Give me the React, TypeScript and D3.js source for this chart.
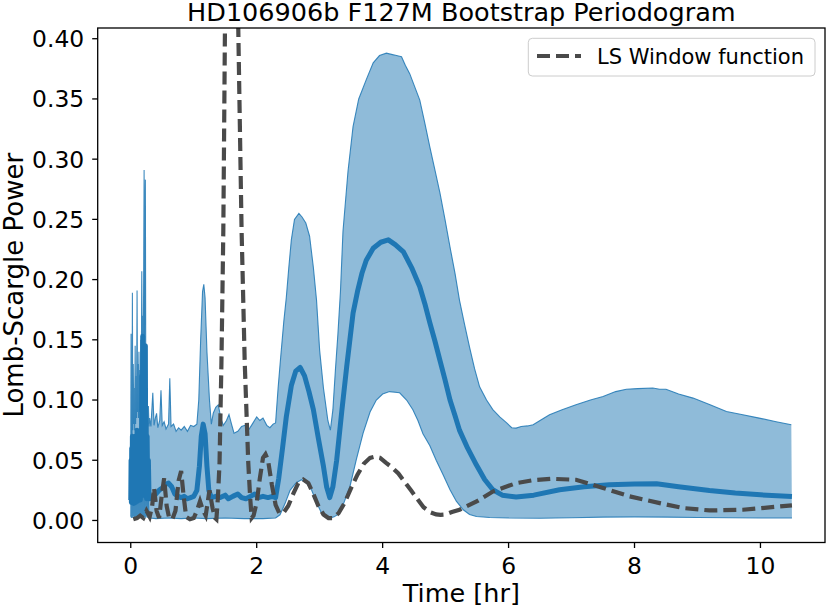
import * as d3 from "d3";

// Bootstrap periodogram: [period in hr, power]
const upperBound: [number, number][] = [
  [0.0, 0.05], [0.005, 0.155], [0.01, 0.06], [0.015, 0.12], [0.02, 0.07], [0.026, 0.189], [0.032, 0.075],
  [0.04, 0.13], [0.047, 0.08], [0.055, 0.11], [0.062, 0.075], [0.07, 0.145], [0.077, 0.08], [0.085, 0.12],
  [0.092, 0.085], [0.1, 0.191], [0.108, 0.09], [0.115, 0.13], [0.122, 0.085], [0.13, 0.14], [0.137, 0.09],
  [0.145, 0.125], [0.152, 0.1], [0.16, 0.15], [0.167, 0.11], [0.175, 0.207], [0.182, 0.14], [0.19, 0.17],
  [0.197, 0.12], [0.205, 0.2], [0.212, 0.291], [0.218, 0.15], [0.225, 0.24], [0.232, 0.283], [0.238, 0.13],
  [0.245, 0.145], [0.252, 0.09], [0.26, 0.11], [0.27, 0.08], [0.28, 0.095], [0.29, 0.078], [0.3, 0.085],
  [0.32, 0.078], [0.35, 0.106], [0.37, 0.079], [0.39, 0.085], [0.41, 0.089], [0.43, 0.077], [0.46, 0.083],
  [0.48, 0.108], [0.5, 0.079], [0.53, 0.082], [0.56, 0.076], [0.6, 0.08], [0.62, 0.118], [0.64, 0.078],
  [0.68, 0.08], [0.72, 0.074], [0.76, 0.077], [0.8, 0.075], [0.85, 0.078], [0.9, 0.074], [0.95, 0.079],
  [1.0, 0.078], [1.05, 0.08], [1.08, 0.1], [1.11, 0.15], [1.14, 0.19], [1.16, 0.196], [1.18, 0.185],
  [1.21, 0.14], [1.25, 0.1], [1.28, 0.08], [1.31, 0.089], [1.35, 0.094], [1.39, 0.096], [1.43, 0.085],
  [1.47, 0.079], [1.52, 0.083], [1.56, 0.088], [1.6, 0.08], [1.64, 0.0725], [1.7, 0.074], [1.76, 0.078],
  [1.81, 0.079], [1.87, 0.075], [1.93, 0.08], [2.0, 0.086], [2.05, 0.083], [2.1, 0.085], [2.16, 0.079],
  [2.21, 0.077], [2.26, 0.08], [2.3, 0.081], [2.34, 0.11], [2.38, 0.135], [2.43, 0.165], [2.47, 0.185],
  [2.51, 0.21], [2.55, 0.233], [2.6, 0.25], [2.67, 0.255], [2.72, 0.252], [2.78, 0.247], [2.84, 0.236],
  [2.9, 0.21], [2.95, 0.183], [3.0, 0.141], [3.06, 0.11], [3.13, 0.083], [3.17, 0.075], [3.21, 0.092],
  [3.25, 0.125], [3.29, 0.155], [3.33, 0.19], [3.37, 0.24], [3.45, 0.29], [3.53, 0.327], [3.62, 0.35],
  [3.74, 0.366], [3.85, 0.38], [3.95, 0.386], [4.06, 0.388], [4.14, 0.387], [4.22, 0.386], [4.3, 0.385],
  [4.36, 0.378], [4.43, 0.371], [4.51, 0.36], [4.59, 0.349], [4.67, 0.33], [4.75, 0.31], [4.83, 0.291],
  [4.91, 0.272], [4.99, 0.25], [5.07, 0.227], [5.15, 0.205], [5.22, 0.183], [5.3, 0.163], [5.38, 0.144],
  [5.46, 0.126], [5.54, 0.111], [5.65, 0.1], [5.75, 0.092], [5.86, 0.086], [5.97, 0.081], [6.05, 0.077],
  [6.12, 0.0767], [6.2, 0.078], [6.3, 0.0785], [6.39, 0.0794], [6.5, 0.083], [6.65, 0.0877], [6.85, 0.092],
  [7.07, 0.096], [7.3, 0.1], [7.5, 0.103], [7.7, 0.107], [7.87, 0.109], [8.05, 0.1095], [8.29, 0.11],
  [8.4, 0.109], [8.5, 0.109], [8.7, 0.105], [8.93, 0.1016], [9.2, 0.096], [9.46, 0.0905], [9.7, 0.088],
  [9.98, 0.085], [10.25, 0.082], [10.49, 0.0794],
];

const medianPower: [number, number][] = [
  [0.0, 0.017], [0.005, 0.05], [0.01, 0.015], [0.015, 0.06], [0.02, 0.018], [0.026, 0.07], [0.032, 0.016],
  [0.04, 0.055], [0.047, 0.014], [0.055, 0.065], [0.062, 0.018], [0.07, 0.07], [0.077, 0.015], [0.085, 0.06],
  [0.092, 0.02], [0.1, 0.075], [0.108, 0.016], [0.115, 0.065], [0.122, 0.018], [0.13, 0.07], [0.137, 0.02],
  [0.145, 0.06], [0.152, 0.017], [0.16, 0.075], [0.167, 0.02], [0.175, 0.12], [0.182, 0.03], [0.19, 0.153],
  [0.197, 0.025], [0.205, 0.09], [0.212, 0.04], [0.218, 0.14], [0.225, 0.03], [0.232, 0.145], [0.238, 0.02],
  [0.245, 0.08], [0.252, 0.018], [0.26, 0.07], [0.27, 0.02], [0.28, 0.05], [0.29, 0.02], [0.3, 0.018],
  [0.35, 0.02], [0.4, 0.022], [0.45, 0.025], [0.5, 0.027], [0.55, 0.03], [0.6, 0.031], [0.65, 0.028],
  [0.7, 0.022], [0.75, 0.02], [0.8, 0.019], [0.85, 0.02], [0.9, 0.018], [0.95, 0.019], [1.0, 0.02],
  [1.05, 0.025], [1.09, 0.045], [1.12, 0.07], [1.15, 0.08], [1.18, 0.072], [1.21, 0.045], [1.24, 0.025],
  [1.28, 0.019], [1.35, 0.02], [1.42, 0.019], [1.5, 0.021], [1.55, 0.018], [1.62, 0.02], [1.7, 0.022],
  [1.76, 0.019], [1.83, 0.018], [1.9, 0.02], [1.97, 0.022], [2.03, 0.019], [2.1, 0.02], [2.18, 0.019],
  [2.25, 0.02], [2.3, 0.019], [2.35, 0.035], [2.41, 0.06], [2.47, 0.086], [2.55, 0.112], [2.62, 0.124],
  [2.69, 0.127], [2.76, 0.12], [2.83, 0.107], [2.9, 0.092], [2.98, 0.068], [3.06, 0.045], [3.11, 0.028],
  [3.16, 0.019], [3.21, 0.028], [3.27, 0.05], [3.35, 0.09], [3.43, 0.128], [3.53, 0.172], [3.6, 0.19],
  [3.67, 0.205], [3.74, 0.216], [3.85, 0.226], [3.97, 0.231], [4.09, 0.233], [4.2, 0.229], [4.33, 0.223],
  [4.46, 0.21], [4.59, 0.194], [4.67, 0.18], [4.75, 0.164], [4.83, 0.149], [4.91, 0.133], [4.99, 0.117],
  [5.07, 0.1], [5.15, 0.087], [5.22, 0.075], [5.35, 0.06], [5.49, 0.046], [5.62, 0.034], [5.75, 0.0255],
  [5.9, 0.021], [6.12, 0.0194], [6.4, 0.021], [6.81, 0.0255], [7.2, 0.028], [7.6, 0.0296], [8.0, 0.0302],
  [8.35, 0.0305], [8.7, 0.028], [9.19, 0.0249], [9.6, 0.0228], [10.0, 0.0213], [10.5, 0.0198],
];

const lowerBound: [number, number][] = [
  [0.0, 0.003], [0.005, 0.04], [0.01, 0.002], [0.015, 0.05], [0.02, 0.003], [0.026, 0.06], [0.032, 0.002],
  [0.04, 0.045], [0.047, 0.003], [0.055, 0.055], [0.062, 0.002], [0.07, 0.06], [0.077, 0.003], [0.085, 0.05],
  [0.092, 0.002], [0.1, 0.065], [0.108, 0.003], [0.115, 0.055], [0.122, 0.002], [0.13, 0.06], [0.137, 0.003],
  [0.145, 0.05], [0.152, 0.002], [0.16, 0.06], [0.167, 0.003], [0.175, 0.07], [0.182, 0.002], [0.19, 0.075],
  [0.197, 0.003], [0.205, 0.06], [0.212, 0.002], [0.218, 0.065], [0.225, 0.003], [0.232, 0.06], [0.238, 0.002],
  [0.245, 0.05], [0.252, 0.003], [0.26, 0.04], [0.27, 0.002], [0.28, 0.02], [0.29, 0.002], [0.3, 0.002],
  [0.4, 0.0015], [0.6, 0.002], [0.8, 0.0015], [1.0, 0.002], [1.2, 0.0015], [1.5, 0.002], [1.8, 0.0015],
  [2.1, 0.0015], [2.3, 0.002], [2.37, 0.0047], [2.45, 0.014], [2.53, 0.025], [2.62, 0.031], [2.71, 0.0338],
  [2.79, 0.031], [2.87, 0.0255], [2.95, 0.015], [3.03, 0.006], [3.1, 0.003], [3.16, 0.002], [3.23, 0.003],
  [3.29, 0.005], [3.38, 0.014], [3.48, 0.028], [3.58, 0.05], [3.69, 0.0725], [3.8, 0.09], [3.9, 0.1],
  [4.0, 0.105], [4.11, 0.107], [4.27, 0.106], [4.38, 0.1], [4.48, 0.092], [4.56, 0.083], [4.64, 0.072],
  [4.75, 0.062], [4.85, 0.05], [4.96, 0.038], [5.07, 0.0255], [5.17, 0.016], [5.28, 0.0089], [5.38, 0.005],
  [5.49, 0.0033], [5.7, 0.0025], [6.0, 0.002], [6.5, 0.0018], [7.0, 0.0022], [7.5, 0.0028], [8.0, 0.003],
  [8.5, 0.0028], [9.0, 0.0025], [9.5, 0.0022], [10.0, 0.002], [10.5, 0.002],
];

const windowFunction: [number, number][] = [
  [0.04, 0.001], [0.1, 0.002], [0.15, 0.004], [0.2, 0.002], [0.25, 0.008], [0.3, 0.003], [0.34, 0.012],
  [0.37, 0.027], [0.41, 0.008], [0.45, 0.002], [0.49, 0.02], [0.53, 0.035], [0.57, 0.012], [0.61, 0.002],
  [0.66, 0.001], [0.71, 0.008], [0.76, 0.033], [0.8, 0.041], [0.84, 0.02], [0.88, 0.003], [0.94, 0.001],
  [1.0, 0.002], [1.05, 0.008], [1.1, 0.016], [1.15, 0.008], [1.19, 0.004], [1.25, 0.025], [1.3, 0.01],
  [1.34, 0.002], [1.36, 0.001], [1.385, 0.02], [1.41, 0.048], [1.44, 0.131], [1.47, 0.241], [1.496, 0.41],
  [1.53, 0.52], [1.565, 0.58], [1.6, 0.6], [1.64, 0.58], [1.675, 0.52], [1.707, 0.41], [1.76, 0.241],
  [1.81, 0.131], [1.866, 0.048], [1.895, 0.02], [1.92, 0.002], [1.95, 0.004], [2.0, 0.015], [2.05, 0.035],
  [2.1, 0.052], [2.14, 0.055], [2.18, 0.05], [2.24, 0.03], [2.3, 0.013], [2.36, 0.006], [2.42, 0.006],
  [2.5, 0.012], [2.58, 0.022], [2.66, 0.031], [2.74, 0.034], [2.82, 0.031], [2.9, 0.022], [2.98, 0.012],
  [3.06, 0.005], [3.14, 0.002], [3.21, 0.002], [3.3, 0.006], [3.4, 0.015], [3.5, 0.027], [3.6, 0.038],
  [3.7, 0.047], [3.8, 0.052], [3.88, 0.053], [3.96, 0.052], [4.05, 0.048], [4.15, 0.044], [4.25, 0.039],
  [4.35, 0.032], [4.45, 0.025], [4.55, 0.018], [4.65, 0.011], [4.75, 0.007], [4.85, 0.005], [4.92, 0.0047],
  [5.0, 0.005], [5.1, 0.007], [5.22, 0.0089], [5.5, 0.016], [5.75, 0.024], [6.12, 0.031], [6.4, 0.0335],
  [6.68, 0.0346], [7.07, 0.0338], [7.5, 0.027], [7.92, 0.02], [8.4, 0.0144], [8.77, 0.0103], [9.19, 0.0083],
  [9.72, 0.0089], [10.3, 0.0116], [10.5, 0.0125],
];

const xTicks = [0, 2, 4, 6, 8, 10];
const yTicks = [0, 0.05, 0.1, 0.15, 0.2, 0.25, 0.3, 0.35, 0.4];

const W = 831, H = 609;
const plot = { left: 97.7, right: 825, top: 28, bottom: 542.5 };
const BLUE = "#1f77b4";
const DASH_GREY = "#4a4a4a";
const FONT = "DejaVu Sans, sans-serif";

export default function App() {
  const x = d3.scaleLinear().domain([-0.525, 11.025]).range([plot.left, plot.right]);
  const y = d3.scaleLinear().domain([-0.0183, 0.4089]).range([plot.bottom, plot.top]);

  const line = d3.line<[number, number]>().x((d) => x(d[0])).y((d) => y(d[1]));
  const band = line([...upperBound, ...lowerBound.slice().reverse()]) + "Z";
  const midX = (plot.left + plot.right) / 2;

  return (
    <svg width={W} height={H} style={{ position: "absolute", left: 0, top: 0, background: "#fff" }} fontFamily={FONT}>
      <defs>
        <clipPath id="plotArea">
          <rect x={plot.left} y={plot.top} width={plot.right - plot.left} height={plot.bottom - plot.top} />
        </clipPath>
      </defs>

      <g clipPath="url(#plotArea)">
        <path d={band} fill={BLUE} fillOpacity={0.5} stroke="none" />
        <path d={line(upperBound) ?? ""} fill="none" stroke={BLUE} strokeWidth={1.1} strokeOpacity={0.85} />
        <path d={line(lowerBound) ?? ""} fill="none" stroke={BLUE} strokeWidth={1.1} strokeOpacity={0.85} />
        <path d={line(medianPower) ?? ""} fill="none" stroke={BLUE} strokeWidth={5} strokeLinejoin="round" />
        <path d={line(windowFunction) ?? ""} fill="none" stroke={DASH_GREY} strokeWidth={4.2}
          strokeDasharray="13,6" />
      </g>

      {/* spines */}
      <rect x={plot.left} y={plot.top} width={plot.right - plot.left} height={plot.bottom - plot.top}
        fill="none" stroke="#000" strokeWidth={1.3} />

      {/* y axis */}
      {yTicks.map((t) => (
        <g key={t} transform={`translate(0,${y(t)})`}>
          <line x1={plot.left - 5.5} x2={plot.left} stroke="#000" strokeWidth={1.3} />
          <text x={plot.left - 13.5} dy="0.36em" textAnchor="end" fontSize={23.4}>{d3.format(".2f")(t)}</text>
        </g>
      ))}

      {/* x axis */}
      {xTicks.map((t) => (
        <g key={t} transform={`translate(${x(t)},0)`}>
          <line y1={plot.bottom} y2={plot.bottom + 5.5} stroke="#000" strokeWidth={1.3} />
          <text y={plot.bottom + 31} textAnchor="middle" fontSize={23.4}>{t}</text>
        </g>
      ))}

      <text x={midX} y={602} textAnchor="middle" fontSize={25.5}>Time [hr]</text>
      <text transform={`translate(22.5,${(plot.top + plot.bottom) / 2}) rotate(-90)`} textAnchor="middle" fontSize={26}>
        Lomb-Scargle Power
      </text>
      <text x={midX} y={20.5} textAnchor="middle" fontSize={25.5}>
        HD106906b F127M Bootstrap Periodogram
      </text>

      {/* legend */}
      <g>
        <rect x={528.3} y={38.3} width={286.7} height={37.7} rx={4} fill="#fff" fillOpacity={0.8}
          stroke="#cccccc" strokeWidth={1} />
        <line x1={537} x2={581} y1={56} y2={56} stroke={DASH_GREY} strokeWidth={4.2} strokeDasharray="13,6" />
        <text x={597} y={63.5} fontSize={21}>LS Window function</text>
      </g>
    </svg>
  );
}
